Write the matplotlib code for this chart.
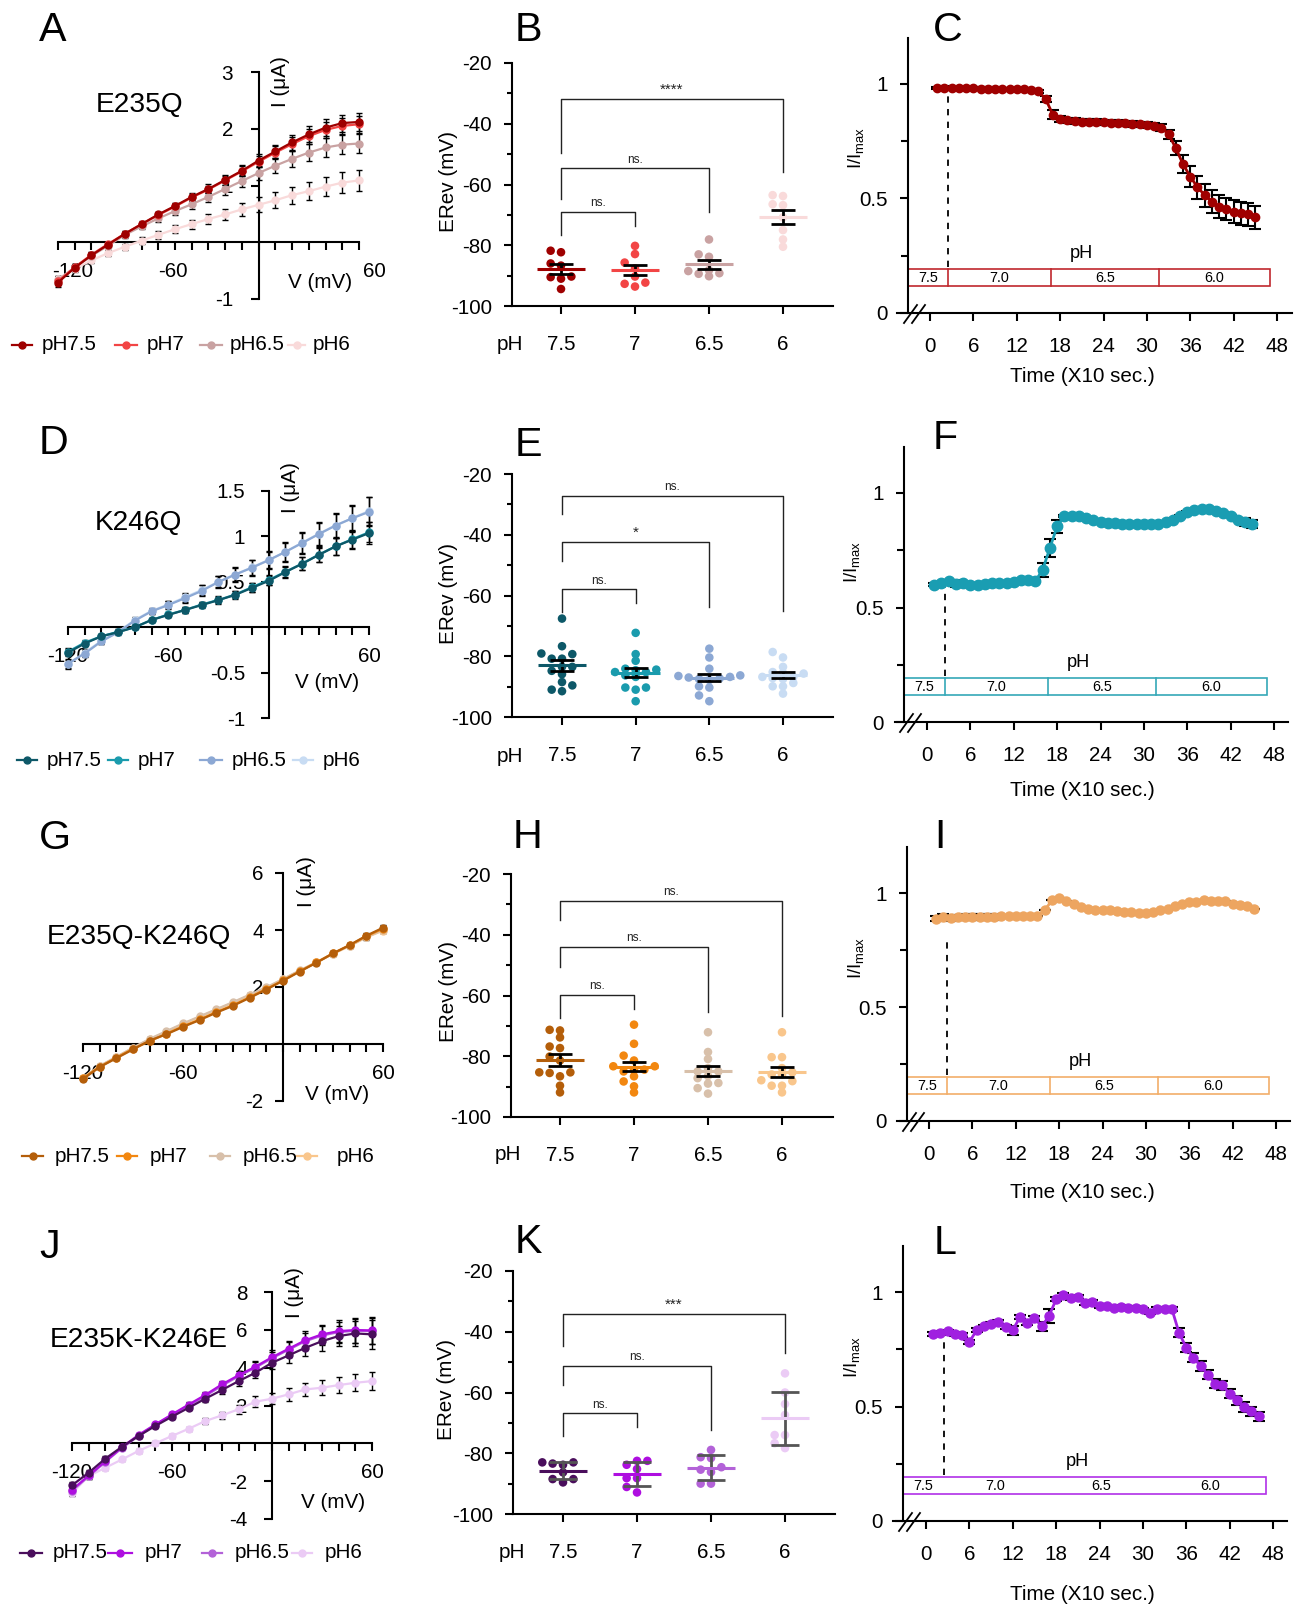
import numpy as np
import matplotlib
matplotlib.use("Agg")
import matplotlib.pyplot as plt
import matplotlib.transforms as mtransforms
from matplotlib import font_manager
from matplotlib.patches import Rectangle

W, H = 1298, 1604

# condensed Arial-like face if it is there
names = {f.name for f in font_manager.fontManager.ttflist}
if "Liberation Sans Narrow" in names:
    FONT, K = "Liberation Sans Narrow", 1.0
else:
    FONT, K = "Liberation Sans", 0.9
plt.rcParams["font.family"] = [FONT, "DejaVu Sans"]
plt.rcParams["mathtext.fontset"] = "custom"
plt.rcParams["mathtext.rm"] = FONT
plt.rcParams["axes.linewidth"] = 1.5

FS_TICK = 16.5 * K
FS_LAB = 16.5 * K
FS_LEG = 16.5 * K
FS_NAME = 22.5 * K
FS_LETTER = 33 * K
FS_BOX = 11.5 * K
FS_PH = 14.5 * K
FS_SIG = 9.5 * K

# ---------------- data ----------------
volts = [-120, -110, -100, -90, -80, -70, -60, -50, -40, -30, -20, -10, 0, 10, 20, 30, 40, 50, 60]
ph_names = ["pH7.5", "pH7", "pH6.5", "pH6"]
ph_cats = ["7.5", "7", "6.5", "6"]
box_labels = ["7.5", "7.0", "6.5", "6.0"]

# I-V curves (uA)
a_75 = [-0.71, -0.45, -0.23, -0.04, 0.15, 0.32, 0.49, 0.64, 0.80, 0.94, 1.10, 1.26, 1.44, 1.60, 1.76, 1.90, 2.02, 2.10, 2.12]
a_7 = [-0.69, -0.44, -0.22, -0.03, 0.15, 0.32, 0.48, 0.63, 0.79, 0.93, 1.09, 1.25, 1.42, 1.58, 1.73, 1.87, 1.98, 2.05, 2.08]
a_65 = [-0.67, -0.44, -0.24, -0.06, 0.13, 0.28, 0.42, 0.55, 0.67, 0.80, 0.94, 1.08, 1.22, 1.35, 1.47, 1.58, 1.67, 1.72, 1.74]
a_6 = [-0.64, -0.47, -0.32, -0.19, -0.08, 0.03, 0.13, 0.23, 0.32, 0.41, 0.49, 0.58, 0.66, 0.74, 0.83, 0.90, 0.98, 1.05, 1.09]
a_e75 = [0.08, 0.06, 0.05, 0.04, 0.04, 0.05, 0.05, 0.06, 0.07, 0.08, 0.09, 0.10, 0.11, 0.12, 0.13, 0.14, 0.15, 0.15, 0.16]
a_e7 = [0.07, 0.05, 0.04, 0.04, 0.04, 0.04, 0.05, 0.06, 0.06, 0.07, 0.08, 0.09, 0.10, 0.11, 0.12, 0.13, 0.14, 0.14, 0.15]
a_e65 = [0.07, 0.05, 0.05, 0.05, 0.05, 0.05, 0.06, 0.07, 0.08, 0.09, 0.10, 0.11, 0.12, 0.13, 0.14, 0.15, 0.16, 0.17, 0.17]
a_e6 = [0.05, 0.05, 0.05, 0.05, 0.05, 0.06, 0.07, 0.07, 0.08, 0.09, 0.10, 0.11, 0.13, 0.14, 0.15, 0.16, 0.17, 0.18, 0.18]

d_75 = [-0.28, -0.18, -0.10, -0.055, 0.0, 0.08, 0.135, 0.19, 0.244, 0.298, 0.356, 0.433, 0.51, 0.607, 0.698, 0.796, 0.89, 0.964, 1.036]
d_7 = [-0.27, -0.17, -0.10, -0.05, 0.0, 0.08, 0.14, 0.19, 0.25, 0.30, 0.36, 0.44, 0.52, 0.61, 0.70, 0.80, 0.89, 0.97, 1.045]
d_65 = [-0.40, -0.29, -0.156, -0.055, 0.073, 0.175, 0.244, 0.32, 0.40, 0.498, 0.58, 0.655, 0.738, 0.83, 0.927, 1.025, 1.12, 1.20, 1.27]
d_6 = [-0.41, -0.28, -0.15, -0.05, 0.08, 0.18, 0.25, 0.33, 0.41, 0.50, 0.58, 0.66, 0.74, 0.83, 0.93, 1.03, 1.12, 1.20, 1.28]
d_e75 = [0.04, 0.03, 0.02, 0.02, 0.02, 0.02, 0.02, 0.03, 0.03, 0.03, 0.04, 0.05, 0.05, 0.06, 0.07, 0.08, 0.09, 0.10, 0.12]
d_e7 = [0.04, 0.03, 0.02, 0.02, 0.02, 0.02, 0.03, 0.03, 0.03, 0.04, 0.04, 0.05, 0.06, 0.06, 0.07, 0.08, 0.09, 0.10, 0.11]
d_e65 = [0.05, 0.04, 0.03, 0.03, 0.03, 0.03, 0.04, 0.05, 0.06, 0.07, 0.08, 0.09, 0.10, 0.11, 0.12, 0.13, 0.14, 0.15, 0.16]
d_e6 = [0.05, 0.04, 0.03, 0.03, 0.03, 0.03, 0.04, 0.05, 0.06, 0.06, 0.07, 0.08, 0.09, 0.10, 0.11, 0.12, 0.13, 0.14, 0.15]

g_75 = [-1.23, -0.81, -0.50, -0.19, 0.12, 0.34, 0.60, 0.84, 1.10, 1.34, 1.62, 1.91, 2.22, 2.54, 2.85, 3.18, 3.47, 3.80, 4.08]
g_7 = [-1.20, -0.80, -0.48, -0.17, 0.10, 0.36, 0.62, 0.86, 1.12, 1.36, 1.64, 1.93, 2.23, 2.55, 2.86, 3.18, 3.47, 3.78, 4.05]
g_65 = [-1.18, -0.77, -0.45, -0.13, 0.18, 0.45, 0.72, 0.97, 1.22, 1.47, 1.73, 1.99, 2.28, 2.58, 2.87, 3.17, 3.45, 3.75, 4.00]
g_6 = [-1.19, -0.78, -0.46, -0.14, 0.16, 0.43, 0.70, 0.95, 1.20, 1.45, 1.71, 1.97, 2.27, 2.57, 2.86, 3.16, 3.44, 3.74, 3.98]
g_e75 = [0.08, 0.07, 0.06, 0.05, 0.05, 0.05, 0.05, 0.05, 0.05, 0.05, 0.05, 0.05, 0.06, 0.06, 0.07, 0.07, 0.08, 0.09, 0.10]
g_e7 = [0.07, 0.06, 0.05, 0.05, 0.05, 0.05, 0.05, 0.05, 0.05, 0.05, 0.05, 0.05, 0.06, 0.06, 0.06, 0.07, 0.08, 0.09, 0.09]
g_e65 = [0.07, 0.06, 0.05, 0.05, 0.05, 0.05, 0.05, 0.05, 0.05, 0.05, 0.05, 0.06, 0.06, 0.06, 0.07, 0.07, 0.08, 0.08, 0.09]
g_e6 = [0.07, 0.06, 0.05, 0.05, 0.05, 0.05, 0.05, 0.05, 0.05, 0.05, 0.05, 0.06, 0.06, 0.06, 0.07, 0.07, 0.08, 0.08, 0.09]

j_75 = [-2.22, -1.55, -0.81, -0.18, 0.39, 0.92, 1.41, 1.88, 2.36, 2.82, 3.29, 3.73, 4.26, 4.65, 5.05, 5.40, 5.67, 5.81, 5.76]
j_7 = [-2.46, -1.70, -0.95, -0.20, 0.45, 1.00, 1.53, 2.05, 2.56, 3.12, 3.60, 4.05, 4.55, 5.00, 5.45, 5.76, 5.93, 5.99, 5.97]
j_65 = [-2.50, -1.75, -0.98, -0.25, 0.40, 0.97, 1.50, 2.00, 2.50, 3.05, 3.55, 4.00, 4.50, 4.95, 5.40, 5.70, 5.88, 5.95, 5.93]
j_6 = [-2.64, -1.73, -1.29, -0.85, -0.40, 0.00, 0.39, 0.77, 1.18, 1.48, 1.80, 2.20, 2.36, 2.59, 2.85, 2.94, 3.08, 3.20, 3.29]
j_e75 = [0.20, 0.15, 0.12, 0.10, 0.10, 0.10, 0.12, 0.14, 0.16, 0.20, 0.24, 0.28, 0.35, 0.40, 0.45, 0.50, 0.55, 0.65, 0.75]
j_e7 = [0.22, 0.16, 0.12, 0.10, 0.10, 0.10, 0.12, 0.14, 0.17, 0.20, 0.25, 0.30, 0.36, 0.42, 0.47, 0.52, 0.58, 0.66, 0.72]
j_e65 = [0.22, 0.16, 0.12, 0.10, 0.10, 0.10, 0.12, 0.14, 0.17, 0.20, 0.25, 0.30, 0.35, 0.40, 0.45, 0.50, 0.55, 0.62, 0.70]
j_e6 = [0.15, 0.12, 0.10, 0.10, 0.10, 0.10, 0.10, 0.10, 0.15, 0.20, 0.25, 0.28, 0.30, 0.33, 0.36, 0.40, 0.42, 0.45, 0.48]

# reversal potentials (mV)
b_75 = [-81.8, -82.3, -86.0, -86.7, -90.3, -90.5, -91.0, -94.4]
b_7 = [-80.2, -82.9, -85.7, -87.6, -90.3, -92.3, -92.7, -93.6]
b_65 = [-78.1, -83.0, -83.8, -88.2, -88.5, -89.4, -90.2, -89.2]
b_6 = [-63.8, -63.5, -66.5, -66.8, -70.8, -75.0, -78.1, -80.5]

e_75 = [-67.6, -76.7, -79.1, -79.3, -80.8, -80.8, -83.5, -83.5, -84.8, -85.9, -88.5, -89.6, -91.0, -91.5]
e_7 = [-72.3, -79.3, -81.5, -84.1, -84.4, -85.2, -85.2, -86.3, -86.8, -90.3, -90.3, -91.0, -94.8, -84.6]
e_65 = [-77.5, -80.4, -84.1, -86.3, -86.8, -87.3, -87.5, -87.0, -87.8, -89.9, -90.3, -92.9, -94.8, -86.5]
e_6 = [-78.6, -80.4, -83.5, -85.2, -85.7, -86.8, -86.8, -87.5, -88.8, -89.9, -89.9, -92.3, -85.5, -87.2]

h_75 = [-71.5, -71.3, -73.8, -76.8, -77.3, -80.1, -81.4, -85.3, -85.3, -86.6, -89.7, -91.9, -85.5]
h_7 = [-69.6, -75.9, -79.8, -81.4, -83.3, -83.3, -84.4, -84.6, -86.6, -88.3, -89.9, -91.9, -85.0]
h_65 = [-72.1, -78.6, -80.9, -83.9, -85.0, -85.0, -87.2, -88.8, -89.0, -90.5, -92.3, -86.5]
h_6 = [-72.1, -80.3, -80.3, -83.9, -85.3, -86.1, -87.9, -88.2, -89.7, -89.7, -91.9, -86.0]

k_75 = [-83.0, -83.0, -83.4, -83.8, -86.3, -88.5, -88.5, -89.6]
k_7 = [-82.5, -82.5, -83.8, -85.2, -88.2, -88.2, -91.1, -92.9]
k_65 = [-78.9, -81.3, -81.6, -84.6, -85.4, -86.2, -90.0, -90.0]
k_6 = [-53.7, -60.0, -63.8, -67.4, -74.0, -74.0, -76.7, -78.3]

# significance brackets: (group a, group b, bar y, left leg end, right leg end, label)
b_sig = [(0, 3, -31.9, -49.6, -55.9, "****"), (0, 2, -54.6, -64.8, -69.0, "ns."), (0, 1, -69.0, -76.6, -73.6, "ns.")]
e_sig = [(0, 3, -27.1, -33.3, -65.0, "ns."), (0, 2, -42.3, -48.7, -63.7, "*"), (0, 1, -58.0, -65.4, -62.4, "ns.")]
h_sig = [(0, 3, -28.8, -35.3, -66.9, "ns."), (0, 2, -43.9, -50.5, -65.3, "ns."), (0, 1, -59.8, -67.5, -64.5, "ns.")]
k_sig = [(0, 3, -34.2, -44.6, -47.1, "***"), (0, 2, -51.2, -57.5, -72.3, "ns."), (0, 1, -66.8, -74.3, -71.4, "ns.")]

# normalised current over time (x10 s)
t45 = list(range(1, 46))
t46 = list(range(1, 47))
c_val = [0.982, 0.984, 0.981, 0.983, 0.982, 0.981, 0.980, 0.980, 0.979, 0.978, 0.978, 0.977, 0.978, 0.972, 0.968,
         0.934, 0.866, 0.848, 0.841, 0.838, 0.836, 0.835, 0.833, 0.832, 0.831, 0.830, 0.828, 0.826, 0.824, 0.822, 0.818,
         0.810, 0.781, 0.720, 0.650, 0.596, 0.549, 0.515, 0.486, 0.464, 0.454, 0.442, 0.435, 0.431, 0.418]
c_err = [0.006] * 15 + [0.012, 0.02] + [0.012] * 14 + [0.015, 0.02, 0.03, 0.04, 0.045, 0.05, 0.05, 0.05, 0.05, 0.05, 0.05, 0.05, 0.05, 0.05]
f_val = [0.600, 0.607, 0.614, 0.603, 0.605, 0.600, 0.597, 0.603, 0.605, 0.607, 0.608, 0.610, 0.621, 0.621, 0.616,
         0.665, 0.760, 0.854, 0.901, 0.901, 0.898, 0.891, 0.881, 0.872, 0.869, 0.867, 0.865, 0.864, 0.863, 0.863,
         0.864, 0.866, 0.872, 0.884, 0.898, 0.916, 0.927, 0.932, 0.929, 0.920, 0.913, 0.901, 0.884, 0.873, 0.866]
f_err = [0.005, 0.005, 0.005, 0.015] + [0.005] * 11 + [0.03, 0.04, 0.03] + [0.005] * 25 + [0.018, 0.018]
i_val = [0.888, 0.895, 0.890, 0.893, 0.895, 0.895, 0.895, 0.895, 0.895, 0.898, 0.899, 0.899, 0.899, 0.898, 0.899,
         0.924, 0.968, 0.978, 0.965, 0.953, 0.939, 0.931, 0.924, 0.924, 0.924, 0.921, 0.917, 0.917, 0.912, 0.912,
         0.917, 0.924, 0.931, 0.942, 0.953, 0.961, 0.961, 0.968, 0.965, 0.964, 0.964, 0.953, 0.946, 0.942, 0.931]
i_err = [0.012] * 9 + [0.0] * 36
l_val = [0.818, 0.821, 0.828, 0.818, 0.811, 0.782, 0.833, 0.850, 0.862, 0.868, 0.847, 0.833, 0.891, 0.865, 0.886,
         0.850, 0.894, 0.968, 0.988, 0.974, 0.978, 0.953, 0.956, 0.940, 0.937, 0.932, 0.934, 0.930, 0.930, 0.924,
         0.910, 0.927, 0.927, 0.927, 0.822, 0.757, 0.713, 0.677, 0.639, 0.600, 0.592, 0.556, 0.527, 0.498, 0.479, 0.457]
l_err = [0.008] * 11 + [0.02, 0.008, 0.008, 0.008, 0.02, 0.03] + [0.008] * 17 + [0.02] * 12

red = ["#9E0000", "#F24545", "#C9A2A2", "#F9DADA"]
teal = ["#0D5868", "#1A9BAD", "#8CA8D4", "#C8DCF3"]
orange = ["#B45E0A", "#F28710", "#D8C0AA", "#F9C68C"]
purple = ["#4A0E5C", "#AE0EE0", "#B362D8", "#EBCBF5"]

# ---------------- figure ----------------
fig = plt.figure(figsize=(W / 100, H / 100), dpi=100)
ov = fig.add_axes([0, 0, 1, 1], zorder=10)
ov.set_xlim(0, W)
ov.set_ylim(H, 0)
ov.axis("off")


def add_ax(l, r, t, b):
    return fig.add_axes([l / W, 1 - b / H, (r - l) / W, (b - t) / H])


def txt(x, y, s, size, ha="center", va="center", **kw):
    ov.text(x, y, s, fontsize=size, ha=ha, va=va, **kw)


def swarm(vals, py, step=0.14, diam=6.0):
    order = np.argsort(vals)
    offs = np.zeros(len(vals))
    placed = []
    for i in order:
        y = vals[i] * py
        for k in [0, -1, 1, -2, 2, -3, 3, -4, 4]:
            if all(kk != k or abs(yy - y) >= diam for kk, yy in placed):
                break
        placed.append((k, y))
        offs[i] = k * step
    return offs


def iv_panel(box, ylim, yticks, series, errs, colors, xshift, ypad):
    l, r, t, b = box
    ax = add_ax(l, r, t, b)
    ax.set_xlim(-120, 60)
    ax.set_ylim(*ylim)
    ax.patch.set_alpha(0)
    for s in ["top", "right"]:
        ax.spines[s].set_visible(False)
    ax.spines["left"].set_position(("data", 0))
    ax.spines["bottom"].set_position(("data", 0))
    xt = list(range(-120, 61, 10))
    ax.set_xticks(xt)
    ax.set_xticklabels([str(v) if v in (-120, -60, 60) else "" for v in xt])
    ax.set_yticks(yticks)
    ax.set_yticklabels([("%g" % v) for v in yticks])
    ax.tick_params(axis="x", direction="out", length=5.5, width=1.5, labelsize=FS_TICK, pad=9)
    ax.tick_params(axis="y", direction="out", length=5.5, width=1.5, labelsize=FS_TICK, pad=ypad)
    off = mtransforms.ScaledTranslation(xshift / 100, 0, fig.dpi_scale_trans)
    for lab in ax.get_xticklabels():
        lab.set_transform(lab.get_transform() + off)
    for vals, err, c in list(zip(series, errs, colors))[::-1]:
        ax.errorbar(volts, vals, yerr=err, fmt="none", ecolor="black", elinewidth=1,
                    capsize=2.5, capthick=1, clip_on=False, zorder=2)
        ax.plot(volts, vals, "-o", color=c, ms=5, lw=1.6, clip_on=False, zorder=3)
    return ax


def dot_panel(box, cats_px, groups, colors, sig, use_sd=False, ecolor="black", cap=8.6):
    l, r, t, b = box
    sp = (cats_px[3] - cats_px[0]) / 3
    ax = add_ax(l, r, t, b)
    ax.set_xlim((l - cats_px[0]) / sp, 3 + (r - cats_px[3]) / sp)
    ax.set_ylim(-100, -20)
    ax.patch.set_alpha(0)
    for s in ["top", "right"]:
        ax.spines[s].set_visible(False)
    ax.set_yticks([-100, -80, -60, -40, -20])
    ax.set_yticklabels(["-100", "-80", "-60", "-40", "-20"])
    ax.set_yticks([-90, -70, -50, -30], minor=True)
    ax.set_xticks([0, 1, 2, 3])
    ax.set_xticklabels(ph_cats)
    ax.tick_params(axis="y", which="major", length=6, width=1.5, labelsize=FS_TICK, pad=8.5)
    ax.tick_params(axis="y", which="minor", length=3.5, width=1.5)
    ax.tick_params(axis="x", length=6, width=1.5, labelsize=FS_TICK, pad=15)
    py = (b - t) / 80
    for i, (vals, c) in enumerate(zip(groups, colors)):
        vals = np.array(vals)
        ax.scatter(i + swarm(vals, py), vals, s=38, color=c, edgecolors="none", zorder=3, clip_on=False)
        m = vals.mean()
        e = vals.std(ddof=1)
        if not use_sd:
            e = e / np.sqrt(len(vals))
        ax.errorbar(i, m, yerr=e, fmt="none", ecolor=ecolor, elinewidth=2, capsize=cap, capthick=2, zorder=4)
        ax.plot([i - 0.33, i + 0.33], [m, m], color=c, lw=2.2, zorder=5, solid_capstyle="butt")
    for ga, gb, yb, yl, yr, lab in sig:
        ax.plot([ga, ga, gb, gb], [yl, yb, yb, yr], color="#222222", lw=1.0, clip_on=False)
        size = FS_SIG * 1.3 if "*" in lab else FS_SIG
        ax.text((ga + gb) / 2, yb + 0.8, lab, ha="center", va="bottom", fontsize=size, color="#222222")
    return ax


def time_panel(geom, t, vals, errs, color, boxcolor, dash_top, dividers=True, ms=6):
    left, right, yaxis, x0, x48, y0, y1 = geom
    s = (x48 - x0) / 48
    top = y0 - 1.2 * (y0 - y1)
    ax = add_ax(left, right, top, y0)
    ax.set_xlim((left - x0) / s, (right - x0) / s)
    ax.set_ylim(0, 1.2)
    ax.patch.set_alpha(0)
    xa = (yaxis - x0) / s
    for sname in ["top", "right"]:
        ax.spines[sname].set_visible(False)
    ax.spines["left"].set_position(("data", xa))
    ax.set_yticks([0, 0.5, 1])
    ax.set_yticklabels(["0", "0.5", "1"])
    ax.set_yticks([0.25, 0.75], minor=True)
    ax.set_xticks(list(range(0, 49, 6)))
    ax.tick_params(axis="y", which="major", length=6, width=1.5, labelsize=FS_TICK, pad=8.5)
    ax.tick_params(axis="y", which="minor", length=5, width=1.5)
    ax.tick_params(axis="x", length=6, width=1.5, labelsize=FS_TICK, pad=11)
    ax.errorbar(t, vals, yerr=errs, fmt="none", ecolor="black", elinewidth=1.5, capsize=4, capthick=1.5, zorder=2)
    ax.plot(t, vals, "-o", color=color, ms=ms, lw=2, zorder=3)
    ax.plot([2.5, 2.5], [0.2, dash_top], color="black", lw=1.3, ls=(0, (3.5, 3.5)))
    ax.add_patch(Rectangle((xa, 0.118), 47 - xa, 0.074, fill=False, edgecolor=boxcolor, lw=1.2, clip_on=False))
    edges = [xa, 2.5, 16.7, 31.7, 47]
    if dividers:
        for d in edges[1:-1]:
            ax.plot([d, d], [0.118, 0.192], color=boxcolor, lw=1.2)
    for k, lab in enumerate(box_labels):
        ax.text((edges[k] + edges[k + 1]) / 2, 0.155, lab, ha="center", va="center", fontsize=FS_BOX)
    ax.text(21, 0.262, "pH", ha="center", va="center", fontsize=FS_PH)
    # axis break marks
    for dx in (0, 8):
        ov.plot([yaxis - 4 + dx, yaxis + 9 + dx], [y0 + 10, y0 - 8], color="black", lw=1.3)
    return ax


# ---- I-V panels ----
iv_panel((58, 359, 72, 299), (-1, 3), [-1, 1, 2, 3], [a_75, a_7, a_65, a_6],
         [a_e75, a_e7, a_e65, a_e6], red, 15, 13)
iv_panel((68, 369, 491, 718), (-1, 1.5), [-1, -0.5, 0.5, 1, 1.5], [d_75, d_7, d_65, d_6],
         [d_e75, d_e7, d_e65, d_e6], teal, 0, 11.5)
iv_panel((83, 383, 873, 1101), (-2, 6), [-2, 2, 4, 6], [g_75, g_7, g_65, g_6],
         [g_e75, g_e7, g_e65, g_e6], orange, 0, 8.5)
iv_panel((72, 372, 1292, 1519), (-4, 8), [-4, -2, 2, 4, 6, 8], [j_75, j_7, j_65, j_6],
         [j_e75, j_e7, j_e65, j_e6], purple, 0, 12)

# ---- reversal potential panels ----
dot_panel((512, 833, 63, 306), [561, 635, 709, 783], [b_75, b_7, b_65, b_6], red, b_sig)
dot_panel((512, 833, 474, 717), [562, 635, 709, 783], [e_75, e_7, e_65, e_6], teal, e_sig)
dot_panel((511, 833, 874, 1117), [560, 634, 708, 782], [h_75, h_7, h_65, h_6], orange, h_sig)
dot_panel((513, 835, 1271, 1514), [563, 637, 711, 785], [k_75, k_7, k_65, k_6], purple, k_sig,
          use_sd=True, ecolor="#555555", cap=10)

# ---- time course panels ----
time_panel((897, 1292, 908, 930, 1277, 313, 84), t45, c_val, c_err, "#A00000", "#C0282D", 0.975, ms=6)
time_panel((895, 1288, 904, 927, 1274, 722, 493), t45, f_val, f_err, "#1A9DB2", "#35A8B8", 0.59, ms=7.5)
time_panel((897, 1290, 907, 929, 1276, 1121, 893), t45, i_val, i_err, "#EDA560", "#F2AE6A", 0.79, ms=6.5)
time_panel((893, 1287, 903, 926, 1273, 1521, 1292), t46, l_val, l_err, "#A020E0", "#B030E8", 0.80,
           dividers=False, ms=6.5)

# ---- text ----
for s, x, y in [("A", 53, 30), ("B", 528, 30), ("C", 948, 30), ("D", 53, 443), ("E", 528, 445),
                ("F", 945, 438), ("G", 55, 838), ("H", 528, 837), ("I", 940, 837), ("J", 50, 1247),
                ("K", 528, 1242), ("L", 945, 1243)]:
    txt(x, y, s, FS_LETTER)

for s, x, y in [("E235Q", 140, 105), ("K246Q", 138, 523), ("E235Q-K246Q", 139, 937), ("E235K-K246E", 139, 1340)]:
    txt(x, y, s, FS_NAME)

for x, y in [(280, 82), (290, 488), (307, 882), (295, 1293)]:
    txt(x, y, "I (\u03bcA)", FS_LAB, rotation=90)
for x, y in [(320, 283), (327, 682), (337, 1095), (333, 1503)]:
    txt(x, y, "V (mV)", FS_LAB)

for x, y in [(448, 181), (448, 593), (448, 992), (447, 1390)]:
    txt(x, y, "ERev (mV)", FS_LAB, rotation=90)
for x, y in [(510, 345), (510, 757), (508, 1155), (512, 1553)]:
    txt(x, y, "pH", FS_TICK)

for x, y in [(857, 148), (853, 562), (857, 958), (853, 1357)]:
    txt(x, y, "I/I$_{\\mathrm{max}}$", FS_LAB * 0.9, rotation=90)
for y in [377, 790, 1192, 1594]:
    txt(1082, y, "Time (X10 sec.)", FS_LAB)

# ---- legends under the I-V panels ----
legends = [
    (345, [(12, 32), (115, 137), (200, 222), (288, 305)], [42, 147, 230, 313], red),
    (760, [(17, 37), (108, 128), (200, 222), (293, 313)], [47, 138, 232, 323], teal),
    (1156, [(22, 43), (117, 137), (210, 230), (297, 317)], [55, 150, 243, 337], orange),
    (1553, [(20, 42), (108, 132), (202, 222), (292, 312)], [53, 145, 235, 325], purple),
]
for y, hands, tx, cols in legends:
    for (h0, h1), x, c, nm in zip(hands, tx, cols, ph_names):
        ov.plot([h0, (h0 + h1) / 2, h1], [y, y, y], color=c, lw=1.6, marker="o", ms=5, markevery=[1])
        txt(x, y, nm, FS_LEG, ha="left")

fig.savefig("out.png", dpi=100)
